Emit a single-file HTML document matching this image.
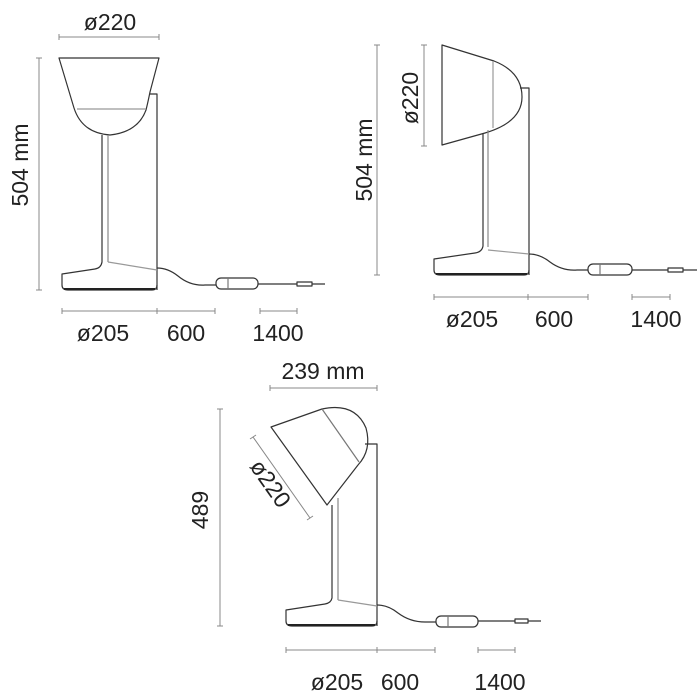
<!DOCTYPE html>
<html><head><meta charset="utf-8"><style>
html,body{margin:0;padding:0;background:#fff;width:700px;height:700px;overflow:hidden}
svg{display:block}
text{font-family:"Liberation Sans",sans-serif;font-size:23px;fill:#222}
</style></head><body>
<svg width="700" height="700" viewBox="0 0 700 700" xmlns="http://www.w3.org/2000/svg">
<g fill="none" stroke="#333" stroke-width="1.2" stroke-linejoin="round">
<!-- Lamp 1 -->
<path d="M59,58 L159,58 L150,92 Q148,102 146,110 Q138,132 110,135 Q82,133 74,108 Z"/>
<line x1="77" y1="109" x2="146" y2="109" stroke="#999"/>
<path d="M150,94 L157,94 L157,290"/>
<path d="M102,135 L102,262 Q101,268 95,269 L62,274 L62,285 Q62,290 68,290 L152,290 Q157,290 157,285"/>
<line x1="108" y1="135" x2="108" y2="262" stroke="#888"/>
<line x1="108" y1="262" x2="157" y2="270" stroke="#999"/>
<line x1="64" y1="289" x2="155" y2="289" stroke="#222" stroke-width="2"/>
<path d="M157,268 Q168,268 178,276 Q190,286 205,285 L216,285"/>
<rect x="216" y="278" width="42" height="11" rx="5"/>
<line x1="228" y1="278" x2="228" y2="289" stroke="#777"/>
<path d="M258,284 L297,284 M297,282 L312,282 L312,286 L297,286 Z M312,284 L325,284"/>
<!-- dims 1 -->
<g stroke="#888" stroke-width="1">
<path d="M59,37 H159 M59,34 V40 M159,34 V40"/>
<path d="M39,58 V290 M36,58 H42 M36,290 H42"/>
<path d="M62,311 H215 M62,308 V314 M157,308 V314 M215,308 V314"/>
<path d="M260,311 H297 M260,308 V314 M297,308 V314"/>
</g>

<!-- Lamp 2 -->
<path d="M442,45 L494,61 Q522,72 522,97 Q522,122 485,133 L442,145 Z"/>
<line x1="493" y1="61" x2="493" y2="128" stroke="#999"/>
<path d="M520,88 L529,88 L529,275"/>
<path d="M483,133 L483,246 Q482,252 475,253 L434,259 L434,270 Q434,275 440,275 L524,275 Q529,275 529,270"/>
<line x1="488" y1="130" x2="488" y2="247" stroke="#888"/>
<line x1="488" y1="250" x2="529" y2="254" stroke="#999"/>
<line x1="436" y1="274" x2="527" y2="274" stroke="#222" stroke-width="2"/>
<path d="M529,254 Q540,254 550,262 Q562,271 577,270 L588,270"/>
<rect x="588" y="264" width="44" height="11" rx="5"/>
<line x1="600" y1="264" x2="600" y2="275" stroke="#777"/>
<path d="M632,270 L668,270 M668,268 L683,268 L683,272 L668,272 Z M683,270 L697,270"/>
<g stroke="#888" stroke-width="1">
<path d="M424,45 V146 M421,45 H427 M421,146 H427"/>
<path d="M377,45 V275 M374,45 H380 M374,275 H380"/>
<path d="M434,297 H588 M434,294 V300 M528,294 V300 M588,294 V300"/>
<path d="M632,297 H670 M632,294 V300 M670,294 V300"/>
</g>

<!-- Lamp 3 -->
<path d="M271,427 L322,409 Q355,402 366,428 Q372,450 358,465 L327,505 Z"/>
<line x1="322" y1="409" x2="359" y2="462" stroke="#777"/>
<path d="M365,444 L377,444 L377,626"/>
<path d="M332,505 L332,598 Q331,603 325,604 L286,610 L286,621 Q286,626 292,626 L372,626 Q377,626 377,621"/>
<line x1="338" y1="498" x2="338" y2="600" stroke="#888"/>
<line x1="338" y1="600" x2="377" y2="606" stroke="#999"/>
<line x1="288" y1="625" x2="375" y2="625" stroke="#222" stroke-width="2"/>
<path d="M377,605 Q388,605 398,613 Q410,622 425,622 L436,622"/>
<rect x="436" y="616" width="42" height="11" rx="5"/>
<line x1="448" y1="616" x2="448" y2="627" stroke="#777"/>
<path d="M478,621 L515,621 M515,619 L528,619 L528,623 L515,623 Z M528,621 L541,621"/>
<g stroke="#888" stroke-width="1">
<path d="M270,388 H377 M270,385 V391 M377,385 V391"/>
<path d="M220,409 V626 M217,409 H223 M217,626 H223"/>
<path d="M253,437 L310,518 M250,439 L256,435 M307,520 L313,516"/>
<path d="M286,650 H435 M286,647 V653 M377,647 V653 M435,647 V653"/>
<path d="M478,650 H515 M478,647 V653 M515,647 V653"/>
</g>
</g>

<g>
<text x="110" y="30" text-anchor="middle">ø220</text>
<text transform="translate(28,165) rotate(-90)" text-anchor="middle">504 mm</text>
<text x="103" y="341" text-anchor="middle">ø205</text>
<text x="186" y="341" text-anchor="middle">600</text>
<text x="278" y="341" text-anchor="middle">1400</text>

<text transform="translate(372,160) rotate(-90)" text-anchor="middle">504 mm</text>
<text transform="translate(418,98) rotate(-90)" text-anchor="middle">ø220</text>
<text x="472" y="327" text-anchor="middle">ø205</text>
<text x="554" y="327" text-anchor="middle">600</text>
<text x="656" y="327" text-anchor="middle">1400</text>

<text x="323" y="379" text-anchor="middle">239 mm</text>
<text transform="translate(208,510) rotate(-90)" text-anchor="middle">489</text>
<text transform="translate(264,488) rotate(55)" text-anchor="middle">ø220</text>
<text x="337" y="690" text-anchor="middle">ø205</text>
<text x="400" y="690" text-anchor="middle">600</text>
<text x="500" y="690" text-anchor="middle">1400</text>
</g>
</svg>
</body></html>
